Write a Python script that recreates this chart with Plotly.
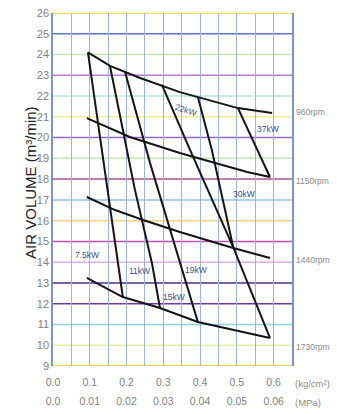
import plotly.graph_objects as go

# ---- data (pressure kg/cm2 -> air volume m3/min) ----
rpm_labels = ["960rpm", "1150rpm", "1440rpm", "1730rpm"]
rpm1_x = [0.095, 0.155, 0.237, 0.345, 0.503, 0.596]
rpm1_y = [24.1, 23.45, 22.87, 22.19, 21.42, 21.18]
rpm2_x = [0.092, 0.209, 0.345, 0.528, 0.590]
rpm2_y = [20.94, 20.03, 19.26, 18.34, 18.10]
rpm3_x = [0.092, 0.169, 0.245, 0.345, 0.490, 0.590]
rpm3_y = [17.14, 16.51, 16.03, 15.45, 14.68, 14.20]
rpm4_x = [0.092, 0.190, 0.291, 0.394, 0.590]
rpm4_y = [13.24, 12.32, 11.79, 11.12, 10.35]

kw_labels = ["7.5kW", "11kW", "15kW", "19kW", "22kW", "30kW", "37kW"]
p1_x = [0.095, 0.148, 0.190]
p1_y = [24.1, 17.47, 12.32]
p2_x = [0.155, 0.223, 0.269, 0.291]
p2_y = [23.45, 17.47, 13.96, 11.79]
p3_x = [0.196, 0.264, 0.394]
p3_y = [23.16, 18.77, 11.12]
p4_x = [0.296, 0.373, 0.490, 0.590]
p4_y = [22.55, 19.40, 14.73, 10.35]
p5_x = [0.394, 0.432, 0.490]
p5_y = [21.95, 19.40, 14.73]
p6_x = [0.503, 0.590]
p6_y = [21.42, 18.10]

kw_label_x = [0.092, 0.234, 0.329, 0.39, 0.362, 0.52, 0.585]
kw_label_y = [14.34, 13.57, 12.32, 13.62, 21.33, 17.3, 20.4]
rpm_label_y = [21.23, 17.9, 14.1, 9.91]

y_ticks = list(range(9, 27))
x_ticks = [0.0, 0.1, 0.2, 0.3, 0.4, 0.5, 0.6]
x_tick_kg = ["0.0", "0.1", "0.2", "0.3", "0.4", "0.5", "0.6"]
x_tick_mpa = ["0.0", "0.01", "0.02", "0.03", "0.04", "0.05", "0.06"]

# colours of the horizontal grid lines, from 9 up to 26
h_colors = ["#efd64a", "#e4eea8", "#8fd0ee", "#6a3aa8", "#4b2f86", "#d9b0e8",
            "#c64cb8", "#f0d480", "#8cc6e6", "#b0508f", "#c6e4b4", "#9468d4",
            "#f2f090", "#b8e4dc", "#b57ad6", "#c8e8b4", "#5a78c4", "#f0e04a"]

FONT = "Liberation Sans, Arial, sans-serif"

fig = go.Figure()

for xs, ys in [(rpm1_x, rpm1_y), (rpm2_x, rpm2_y), (rpm3_x, rpm3_y), (rpm4_x, rpm4_y),
               (p1_x, p1_y), (p2_x, p2_y), (p3_x, p3_y), (p4_x, p4_y),
               (p5_x, p5_y), (p6_x, p6_y)]:
    fig.add_trace(go.Scatter(x=xs, y=ys, mode="lines",
                             line=dict(color="#141414", width=2),
                             hoverinfo="skip", showlegend=False))
# invisible trace on the second x axis (MPa row)
fig.add_trace(go.Scatter(x=[0, 0.65], y=[9, 9], xaxis="x2", mode="lines",
                         line=dict(width=0), hoverinfo="skip", showlegend=False))

shapes = []
for yv, c in zip(y_ticks, h_colors):
    shapes.append(dict(type="line", xref="paper", yref="y", x0=0, x1=1, y0=yv, y1=yv,
                       line=dict(color=c, width=2 if yv in (9, 26) else 1.5), layer="below"))

annotations = []
for t, x, y in zip(kw_labels, kw_label_x, kw_label_y):
    annotations.append(dict(x=x, y=y, xref="x", yref="y", text=t, showarrow=False,
                            textangle=18 if t == "22kW" else 0,
                            font=dict(family=FONT, size=8.5, color="#3a4c8c")))
for t, y in zip(rpm_labels, rpm_label_y):
    annotations.append(dict(x=1.0, y=y, xref="paper", yref="y", text=t, showarrow=False,
                            xanchor="left", xshift=2,
                            font=dict(family=FONT, size=8.5, color="#8a8a8a")))
annotations.append(dict(x=1.0, y=0, xref="paper", yref="paper", text="(kg/cm²)",
                        showarrow=False, xanchor="left", yanchor="middle",
                        xshift=1, yshift=-17,
                        font=dict(family=FONT, size=9.5, color="#8a8a8a")))
annotations.append(dict(x=1.0, y=0, xref="paper", yref="paper", text="(MPa)",
                        showarrow=False, xanchor="left", yanchor="middle",
                        xshift=1, yshift=-36,
                        font=dict(family=FONT, size=9.5, color="#8a8a8a")))
annotations.append(dict(x=-0.138, y=0.52, xref="paper", yref="paper",
                        text="AIR VOLUME (m³/min)", showarrow=False, textangle=-90,
                        font=dict(family=FONT, size=15, color="#222222")))

fig.update_layout(
    width=337, height=414,
    margin=dict(l=53, r=45, t=13, b=48),
    paper_bgcolor="white", plot_bgcolor="white",
    shapes=shapes, annotations=annotations,
    xaxis=dict(range=[0, 0.65], tickvals=x_ticks, ticktext=x_tick_kg, automargin=False,
               showgrid=True, gridcolor="#9fb2da", gridwidth=1,
               minor=dict(dtick=0.05, tick0=0, showgrid=True, gridcolor="#9fb2da", gridwidth=1),
               zeroline=False, showline=False, ticks="", ticklabelstandoff=8,
               tickfont=dict(family=FONT, size=10.5, color="#808080")),
    xaxis2=dict(range=[0, 0.65], tickvals=x_ticks, ticktext=x_tick_mpa, automargin=False,
                overlaying="x", side="bottom", anchor="y",
                showgrid=False, zeroline=False, showline=False, ticks="",
                ticklabelstandoff=27,
                tickfont=dict(family=FONT, size=10.5, color="#808080")),
    yaxis=dict(range=[9, 26], tickvals=y_ticks, showgrid=False, zeroline=False,
               automargin=False,
               showline=True, mirror=True, linecolor="#7d93cc", linewidth=1.5, ticks="",
               tickfont=dict(family=FONT, size=11, color="#808080")),
)

fig.write_html("out.html", post_script="document.body.style.margin='0';",
               config={"displayModeBar": False})
